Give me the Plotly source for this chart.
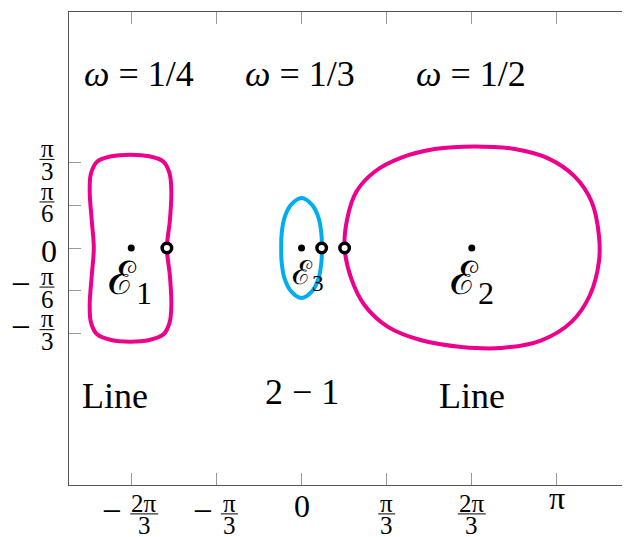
import math
import plotly.graph_objects as go

PI = math.pi

# ---- data (radians) ----
# curve E1 (omega = 1/4), closed
e1_x = [-2.106, -2.340, -2.515, -2.590, -2.605, -2.580, -2.555, -2.580, -2.605, -2.590,
        -2.515, -2.340, -2.106, -1.872, -1.697, -1.622, -1.601, -1.619, -1.656, -1.619,
        -1.601, -1.622, -1.697, -1.872, -2.106]
e1_y = [1.148, 1.128, 1.062, 0.915, 0.690, 0.339, 0.0, -0.339, -0.690, -0.915,
        -1.062, -1.132, -1.152, -1.132, -1.062, -0.915, -0.690, -0.339, 0.0, 0.339,
        0.690, 0.915, 1.062, 1.128, 1.148]

# curve E3 (omega = 1/3), closed
e3_x = [0.0, 0.13, 0.21, 0.245, 0.25, 0.245, 0.21, 0.13, 0.0, -0.13, -0.21, -0.245,
        -0.25, -0.245, -0.21, -0.13, 0.0]
e3_y = [0.615, 0.53, 0.37, 0.17, 0.0, -0.17, -0.37, -0.53, -0.615, -0.53, -0.37, -0.17,
        0.0, 0.17, 0.37, 0.53, 0.615]

# curve E2 (omega = 1/2), closed
e2_x = [0.530, 0.563, 0.674, 0.899, 1.228, 1.638, 2.131, 2.623, 3.033, 3.362, 3.568,
        3.658, 3.658, 3.547, 3.321, 2.952, 2.459, 1.967, 1.474, 1.063, 0.776, 0.612, 0.530]
e2_y = [0.0, 0.363, 0.692, 0.938, 1.111, 1.217, 1.250, 1.217, 1.102, 0.877, 0.569,
        0.158, -0.170, -0.581, -0.909, -1.135, -1.229, -1.217, -1.135, -0.970, -0.704,
        -0.376, 0.0]

# equilibrium points (filled) and marked points (open)
eq_x = [-2 * PI / 3, 0.0, 2 * PI / 3]
eq_y = [0.0, 0.0, 0.0]
open_x = [-1.656, 0.248, 0.530]
open_y = [0.0, 0.0, 0.0]

# tick labels
x_tick_vals = [-2 * PI / 3, -PI / 3, 0.0, PI / 3, 2 * PI / 3, PI]
x_tick_sign = ["−", "−", "", "", "", ""]
x_tick_num = ["2π", "π", "0", "π", "2π", "π"]
x_tick_den = ["3", "3", "", "3", "3", ""]

y_tick_vals = [PI / 3, PI / 6, 0.0, -PI / 6, -PI / 3]
y_tick_sign = ["", "", "", "−", "−"]
y_tick_num = ["π", "π", "0", "π", "π"]
y_tick_den = ["3", "6", "", "6", "3"]

omega_labels = ["<i>ω</i> = 1/4", "<i>ω</i> = 1/3", "<i>ω</i> = 1/2"]
type_labels = ["Line", "2 − 1", "Line"]
set_labels = ["ℰ<sub>1</sub>", "ℰ<sub>3</sub>", "ℰ<sub>2</sub>"]

MAGENTA = "#EC008C"
CYAN = "#00AEEF"
SERIF = "Liberation Serif, DejaVu Serif, serif"

fig = go.Figure()
for xs, ys, col in [(e2_x, e2_y, MAGENTA), (e1_x, e1_y, MAGENTA), (e3_x, e3_y, CYAN)]:
    fig.add_trace(go.Scatter(x=xs, y=ys, mode="lines",
                             line=dict(color=col, width=4, shape="spline", smoothing=1.0),
                             hoverinfo="skip"))
fig.add_trace(go.Scatter(x=eq_x, y=eq_y, mode="markers",
                         marker=dict(color="black", size=7)))
fig.add_trace(go.Scatter(x=open_x, y=open_y, mode="markers",
                         marker=dict(color="white", size=9.5,
                                     line=dict(color="black", width=3.5))))

ann = []
shapes = []

# ---- x tick labels ----
NUM_S = 25
MAIN_S = 32
for v, sg, nm, dn in zip(x_tick_vals, x_tick_sign, x_tick_num, x_tick_den):
    if not dn:
        shift = -21.4 if nm == "0" else -12.5
        ann.append(dict(x=v, y=0, xref="x", yref="paper", text=nm, showarrow=False,
                        xanchor="center", yanchor="middle", yshift=shift,
                        font=dict(family=SERIF, size=MAIN_S, color="black")))
        continue
    fw = 6 + 11 * len(nm)
    if sg:
        total = 18 + 8 + fw
        left = -total / 2
        mc = left + 8
        fc = left + 26 + fw / 2
        ann.append(dict(x=v, y=0, xref="x", yref="paper", text=sg, showarrow=False,
                        xanchor="center", yanchor="middle", xshift=mc, yshift=-28.9 + 2.2,
                        font=dict(family=SERIF, size=35, color="black")))
    else:
        fc = 0
    ann.append(dict(x=v, y=0, xref="x", yref="paper", text=nm, showarrow=False,
                    xanchor="center", yanchor="middle", xshift=fc, yshift=-18,
                    font=dict(family=SERIF, size=NUM_S, color="black")))
    ann.append(dict(x=v, y=0, xref="x", yref="paper", text=dn, showarrow=False,
                    xanchor="center", yanchor="middle", xshift=fc, yshift=-40.9,
                    font=dict(family=SERIF, size=NUM_S, color="black")))
    shapes.append(dict(type="line", xref="x", yref="paper", xsizemode="pixel",
                       ysizemode="pixel", xanchor=v, yanchor=0,
                       x0=fc - fw / 2, x1=fc + fw / 2, y0=-28.9, y1=-28.9,
                       line=dict(color="black", width=1)))

# ---- y tick labels ----
for v, sg, nm, dn in zip(y_tick_vals, y_tick_sign, y_tick_num, y_tick_den):
    if not dn:
        ann.append(dict(x=0, y=v, xref="paper", yref="y", text=nm, showarrow=False,
                        xanchor="center", yanchor="middle", xshift=-20.2, yshift=-2.6,
                        font=dict(family=SERIF, size=MAIN_S, color="black")))
        continue
    fw = 15
    if sg:
        ann.append(dict(x=0, y=v, xref="paper", yref="y", text=sg, showarrow=False,
                        xanchor="center", yanchor="middle", xshift=-47.8, yshift=5.7,
                        font=dict(family=SERIF, size=35, color="black")))
    ann.append(dict(x=0, y=v, xref="paper", yref="y", text=nm, showarrow=False,
                    xanchor="center", yanchor="middle", xshift=-22, yshift=14.4,
                    font=dict(family=SERIF, size=NUM_S, color="black")))
    ann.append(dict(x=0, y=v, xref="paper", yref="y", text=dn, showarrow=False,
                    xanchor="center", yanchor="middle", xshift=-22, yshift=-8.5,
                    font=dict(family=SERIF, size=NUM_S, color="black")))
    shapes.append(dict(type="line", xref="paper", yref="y", xsizemode="pixel",
                       ysizemode="pixel", xanchor=0, yanchor=v,
                       x0=-22 - fw / 2, x1=-22 + fw / 2, y0=3.5, y1=3.5,
                       line=dict(color="black", width=1)))

# ---- text labels in the plot ----
TXT_S = 36
omega_pos = [(-2.005, 2.144), (-0.018, 2.144), (2.083, 2.144)]
for t, (px, py) in zip(omega_labels, omega_pos):
    ann.append(dict(x=px, y=py, xref="x", yref="y", text=t, showarrow=False,
                    xanchor="center", yanchor="middle",
                    font=dict(family=SERIF, size=TXT_S, color="black")))
type_pos = [(-2.300, -1.815), (0.0, -1.776), (2.091, -1.815)]
for t, (px, py) in zip(type_labels, type_pos):
    ann.append(dict(x=px, y=py, xref="x", yref="y", text=t, showarrow=False,
                    xanchor="center", yanchor="middle",
                    font=dict(family=SERIF, size=TXT_S, color="black")))
set_pos = [(-2.109, -0.42, 46), (0.084, -0.34, 33), (2.097, -0.42, 46)]
for t, (px, py, fs) in zip(set_labels, set_pos):
    ann.append(dict(x=px, y=py, xref="x", yref="y", text=t, showarrow=False,
                    xanchor="center", yanchor="middle",
                    font=dict(family=SERIF, size=fs, color="black")))

fig.update_layout(
    width=640, height=537,
    margin=dict(l=61, r=9, t=4, b=60),
    plot_bgcolor="white", paper_bgcolor="white",
    showlegend=False,
    annotations=ann, shapes=shapes,
    xaxis=dict(range=[-2.860, 4.151], showgrid=False, zeroline=False,
               showline=True, linecolor="#555555", linewidth=1.3, mirror="ticks",
               ticks="inside", ticklen=12, tickcolor="#999999", tickwidth=1,
               tickvals=x_tick_vals, showticklabels=False),
    yaxis=dict(range=[-2.915, 2.903], showgrid=False, zeroline=False,
               showline=True, linecolor="#555555", linewidth=1.3, mirror="ticks",
               ticks="inside", ticklen=12, tickcolor="#999999", tickwidth=1,
               tickvals=y_tick_vals, showticklabels=False),
)

fig.write_html("out.html")
